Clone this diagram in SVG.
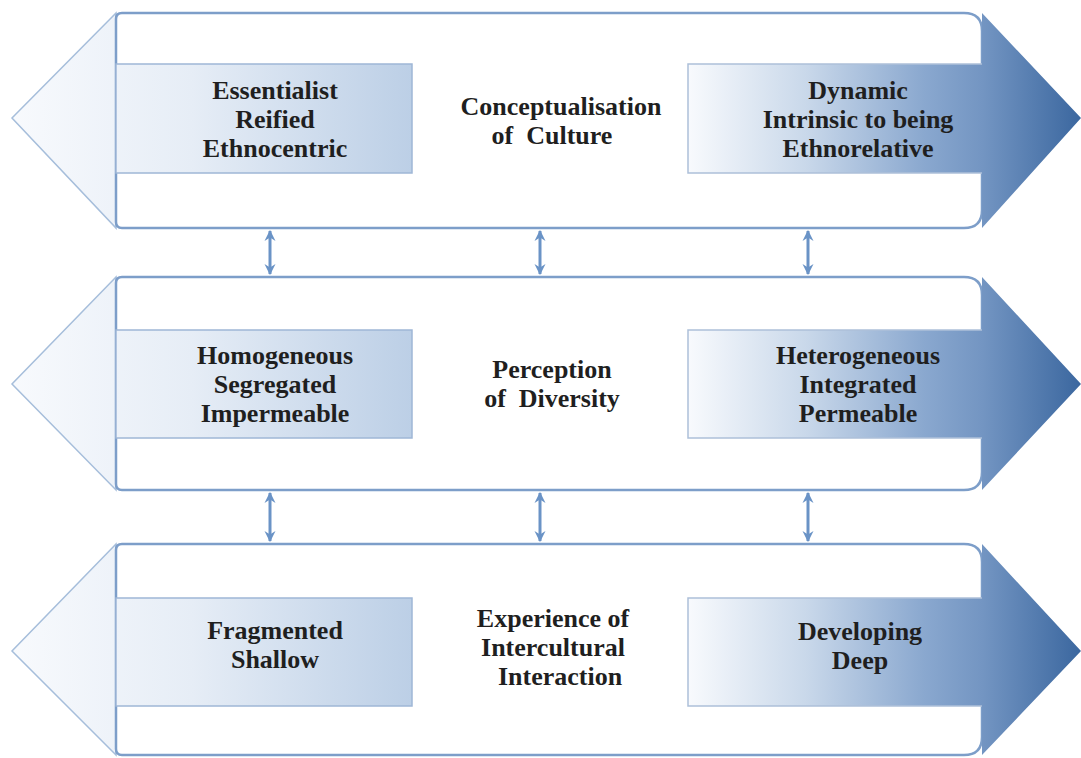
<svg xmlns="http://www.w3.org/2000/svg" width="1081" height="758" viewBox="0 0 1081 758">
<defs>
<linearGradient id="gL" gradientUnits="userSpaceOnUse" x1="12" y1="0" x2="412" y2="0">
<stop offset="0" stop-color="#f8fafd"/>
<stop offset="0.45" stop-color="#e6edf6"/>
<stop offset="1" stop-color="#bccfe6"/>
</linearGradient>
<linearGradient id="gR" gradientUnits="userSpaceOnUse" x1="688" y1="0" x2="1081" y2="0">
<stop offset="0" stop-color="#f8fafd"/>
<stop offset="0.3" stop-color="#c9d8ea"/>
<stop offset="0.6" stop-color="#8aa8cf"/>
<stop offset="0.75" stop-color="#7395c2"/>
<stop offset="1" stop-color="#3b679f"/>
</linearGradient>
<marker id="ah" viewBox="0 0 10 10" refX="9" refY="5" markerWidth="11" markerHeight="12" markerUnits="userSpaceOnUse" orient="auto-start-reverse">
<path d="M0,0 L10,5 L0,10 L3,5 z" fill="#6a93c6"/>
</marker>
</defs>
<style>
.head{fill:url(#gL);stroke:#a6bedb;stroke-width:1.5}
.band{fill:#ffffff;stroke:#7d9ec9;stroke-width:2.5}
.lshaft{fill:url(#gL);stroke:#9fb7d6;stroke-width:1.5}
.rarrow{fill:url(#gR);stroke:none}
.redge{fill:none;stroke:#adc0d9;stroke-width:1.5}
.conn{stroke:#6a93c6;stroke-width:3;fill:none;marker-start:url(#ah);marker-end:url(#ah)}
text{font-family:"Liberation Serif","Times New Roman",serif;font-weight:bold;font-size:26px;fill:#1f1f1f;text-anchor:middle}
</style>

<g id="band1">
<polygon class="head" points="116,13 12,118 116,228"/>
<path class="band" d="M122,13 H964 Q982,13 982,31 V210 Q982,228 964,228 H122 Q116,228 116,222 V19 Q116,13 122,13 Z"/>
<rect class="lshaft" x="116" y="64" width="296" height="109"/>
<polygon class="rarrow" points="688,64 982,64 982,13 1081,118 982,228 982,173 688,173"/>
<polyline class="redge" points="982,64 688,64 688,173 982,173"/>
<text x="275" y="99">Essentialist</text>
<text x="275" y="128">Reified</text>
<text x="275" y="157">Ethnocentric</text>
<text x="561" y="115">Conceptualisation</text>
<text x="552" y="144" xml:space="preserve">of  Culture</text>
<text x="858" y="99">Dynamic</text>
<text x="858" y="128">Intrinsic to being</text>
<text x="858" y="157">Ethnorelative</text>
</g>

<g id="band2">
<polygon class="head" points="116,277 12,384 116,490"/>
<path class="band" d="M122,277 H964 Q982,277 982,295 V472 Q982,490 964,490 H122 Q116,490 116,484 V283 Q116,277 122,277 Z"/>
<rect class="lshaft" x="116" y="330" width="296" height="108"/>
<polygon class="rarrow" points="688,330 982,330 982,277 1081,384 982,490 982,438 688,438"/>
<polyline class="redge" points="982,330 688,330 688,438 982,438"/>
<text x="275" y="364">Homogeneous</text>
<text x="275" y="393">Segregated</text>
<text x="275" y="422">Impermeable</text>
<text x="552" y="378">Perception</text>
<text x="552" y="407" xml:space="preserve">of  Diversity</text>
<text x="858" y="364">Heterogeneous</text>
<text x="858" y="393">Integrated</text>
<text x="858" y="422">Permeable</text>
</g>

<g id="band3">
<polygon class="head" points="116,544 12,651 116,755"/>
<path class="band" d="M122,544 H964 Q982,544 982,562 V737 Q982,755 964,755 H122 Q116,755 116,749 V550 Q116,544 122,544 Z"/>
<rect class="lshaft" x="116" y="598" width="296" height="108"/>
<polygon class="rarrow" points="688,598 982,598 982,544 1081,651 982,755 982,706 688,706"/>
<polyline class="redge" points="982,598 688,598 688,706 982,706"/>
<text x="275" y="639">Fragmented</text>
<text x="275" y="668">Shallow</text>
<text x="553" y="627">Experience of</text>
<text x="553" y="656">Intercultural</text>
<text x="560" y="685">Interaction</text>
<text x="860" y="640">Developing</text>
<text x="860" y="669">Deep</text>
</g>

<g id="connectors">
<line class="conn" x1="270" y1="231" x2="270" y2="274"/>
<line class="conn" x1="540" y1="231" x2="540" y2="274"/>
<line class="conn" x1="808" y1="231" x2="808" y2="274"/>
<line class="conn" x1="270" y1="493" x2="270" y2="541"/>
<line class="conn" x1="540" y1="493" x2="540" y2="541"/>
<line class="conn" x1="808" y1="493" x2="808" y2="541"/>
</g>
</svg>
